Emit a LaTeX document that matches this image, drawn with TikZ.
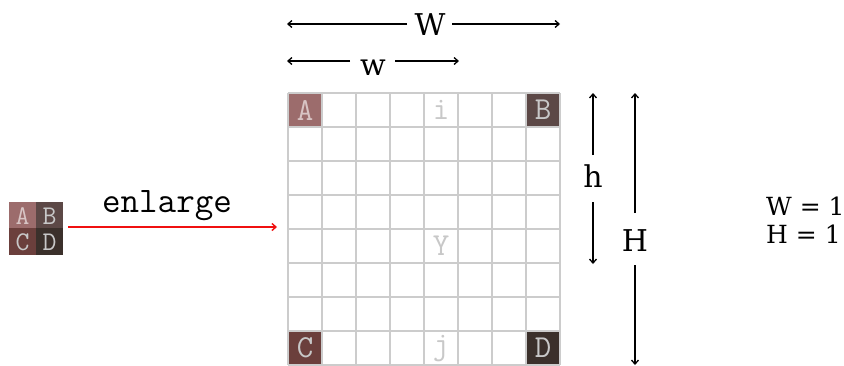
\documentclass[tikz,border=0pt]{standalone}
\usepackage{fontspec}
\setmainfont{DejaVu Serif}
\usetikzlibrary{arrows.meta}
\definecolor{gridc}{HTML}{CCCCCC}
\definecolor{cA}{HTML}{9C6C6C}
\definecolor{cB}{HTML}{5C4846}
\definecolor{cC}{HTML}{6B3F3C}
\definecolor{cD}{HTML}{3B302B}
\definecolor{letA}{HTML}{D8C4C4}
\definecolor{letL}{HTML}{C8C8C8}
\definecolor{redc}{HTML}{F01010}
\tikzset{
  dimarrow/.style={line width=1.3pt, -{Straight Barb[length=4pt,width=7pt]}},
  redarrow/.style={line width=1.4pt, redc, -{Straight Barb[length=4pt,width=7pt]}},
  dimlabel/.style={font=\fontsize{30}{30}\selectfont, inner sep=0pt},
  biglet/.style={font=\ttfamily\fontsize{32}{32}\selectfont, inner sep=0pt},
  smalllet/.style={font=\ttfamily\fontsize{27}{27}\selectfont, inner sep=0pt},
  gridline/.style={gridc, line width=2pt},
}
\begin{document}
\begin{tikzpicture}[x=1pt,y=-1pt]
\useasboundingbox[fill=white] (0,0) rectangle (844,365);
% small source image
\fill[cA] (9,202) rectangle (36,228);
\fill[cB] (36,202) rectangle (63,228);
\fill[cC] (9,228) rectangle (36,255);
\fill[cD] (36,228) rectangle (63,255);
\node[smalllet, letA] (sA) at (22.5,216) {A};
\node[smalllet, letL] (sB) at (49.5,216) {B};
\node[smalllet, letL] (sC) at (22.5,242) {C};
\node[smalllet, letL] (sD) at (49.5,242) {D};
% enlarge arrow
\coordinate (rs) at (68,227);
\coordinate (re) at (277,227);
\draw[redarrow] (rs) -- (re);
\node[font=\ttfamily\fontsize{36}{36}\selectfont, inner sep=0pt, anchor=base] (enl) at (167,212) {enlarge};
% grid
\fill[cA] (288,93) rectangle (322,127);
\fill[cB] (526,93) rectangle (560,127);
\fill[cC] (288,331) rectangle (322,365);
\fill[cD] (526,331) rectangle (560,365);
\foreach \i in {0,...,8} {
  \draw[gridline] (288+34*\i,93) -- (288+34*\i,365);
  \draw[gridline] (288,93+34*\i) -- (560,93+34*\i);
}
\node[biglet, letA] (gA) at (305,110) {A};
\node[biglet, letL] (gB) at (543,110) {B};
\node[biglet, letL] (gi) at (441,110) {i};
\node[biglet, letL] (gY) at (441,246) {Y};
\node[biglet, letL] (gj) at (441,349) {j};
\node[biglet, letL] (gC) at (305,348) {C};
\node[biglet, letL] (gD) at (543,348) {D};
% W dimension
\node[dimlabel] (Wlab) at (430,25) {W};
\coordinate (Wgl) at (407,24); \coordinate (Wgr) at (452,24);
\coordinate (Wl) at (287,24); \coordinate (Wr) at (560,24);
\draw[dimarrow] (Wgl) -- (Wl);
\draw[dimarrow] (Wgr) -- (Wr);
% w dimension
\node[dimlabel, anchor=base] (wlab) at (373,75) {w};
\coordinate (wgl) at (350,61); \coordinate (wgr) at (395,61);
\coordinate (wl) at (287,61); \coordinate (wr) at (459,61);
\draw[dimarrow] (wgl) -- (wl);
\draw[dimarrow] (wgr) -- (wr);
% h dimension
\node[dimlabel, anchor=base] (hlab) at (593,187) {h};
\coordinate (hgt) at (593,155); \coordinate (hgb) at (593,202);
\coordinate (ht) at (593,93); \coordinate (hb) at (593,264);
\draw[dimarrow] (hgt) -- (ht);
\draw[dimarrow] (hgb) -- (hb);
% H dimension
\node[dimlabel, anchor=base] (Hlab) at (635,251) {H};
\coordinate (Hgt) at (635,213); \coordinate (Hgb) at (635,265);
\coordinate (Ht) at (635,93); \coordinate (Hb) at (635,365);
\draw[dimarrow] (Hgt) -- (Ht);
\draw[dimarrow] (Hgb) -- (Hb);
% values
\node[font=\fontsize{25}{25}\selectfont, inner sep=0pt, anchor=base west] (Wv) at (766,215) {W = 1};
\node[font=\fontsize{25}{25}\selectfont, inner sep=0pt, anchor=base west] (Hv) at (766,243) {H = 1};
\end{tikzpicture}
\end{document}
